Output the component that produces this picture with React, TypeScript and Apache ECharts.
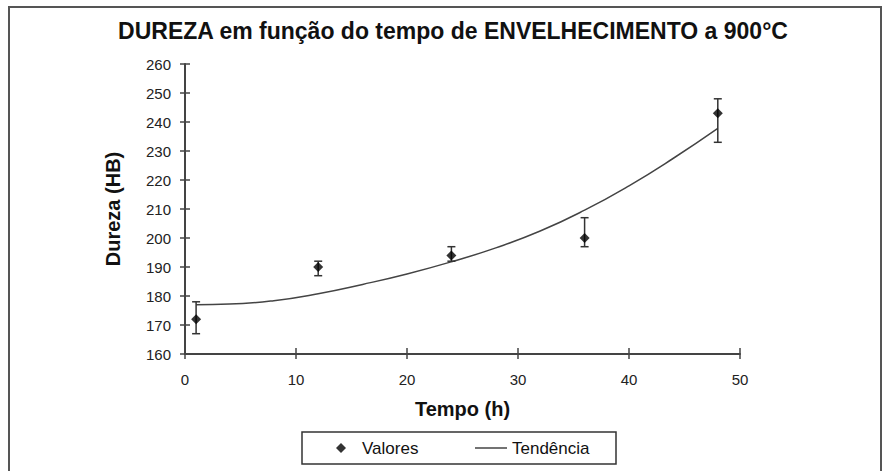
import React, { useEffect, useRef } from "react";
import * as echarts from "echarts";

const titleText = "DUREZA em função do tempo de ENVELHECIMENTO a 900°C";
const xAxisName = "Tempo (h)";
const yAxisName = "Dureza (HB)";

const timeHours = [1, 12, 24, 36, 48];
const hardness = [172, 190, 194, 200, 243];
const errLow = [167, 187, 192, 197, 233];
const errHigh = [178, 192, 197, 207, 248];

const trendX = [1, 4, 8, 12, 16, 20, 24, 28, 32, 36, 40, 44, 48];
const trendY = [177, 177.2, 178.4, 180.8, 184, 187.6, 191.8, 196.6, 202.4, 209.6, 218, 227.5, 237.8];

export default function App() {
  const ref = useRef<HTMLDivElement>(null);
  useEffect(() => {
    if (!ref.current) return;
    const chart = echarts.init(ref.current, null, { renderer: "svg" });
    const axisColor = "#444";
    const font = "Liberation Sans, Arial, sans-serif";
    const labelFont = { fontFamily: font, fontSize: 15, color: "#222" };
    const nameFont = { fontFamily: font, fontSize: 20, fontWeight: "bold" as const, color: "#111" };
    const legendText = { fontFamily: font, fontSize: 17, color: "#111", lineHeight: 18 };
    chart.setOption({
      animation: false,
      backgroundColor: "#fff",
      title: {
        text: titleText,
        left: 453,
        textAlign: "center",
        top: 19,
        padding: 0,
        textStyle: { fontFamily: font, fontSize: 23, fontWeight: "bold", color: "#111" },
      },
      graphic: [
        {
          type: "rect",
          shape: { x: 9, y: 7, width: 872, height: 490 },
          style: { fill: "none", stroke: "#555", lineWidth: 2 },
          silent: true,
        },
        {
          type: "rect",
          shape: { x: 302, y: 432, width: 314, height: 32 },
          style: { fill: "none", stroke: "#333", lineWidth: 1.5 },
          silent: true,
        },
      ],
      legend: [
        {
          left: 336,
          top: 439,
          padding: 0,
          itemWidth: 10,
          itemHeight: 10,
          textStyle: { ...legendText, padding: [0, 0, 0, 11] },
          data: [{ name: "Valores", icon: "diamond" }],
        },
        {
          left: 475,
          top: 439,
          padding: 0,
          itemWidth: 32,
          itemHeight: 1.5,
          textStyle: legendText,
          data: [{ name: "Tendência", icon: "rect" }],
        },
      ],
      grid: { left: 185, right: 142, top: 64, bottom: 117 },
      xAxis: [
        {
          type: "value",
          min: 0,
          max: 50,
          interval: 10,
          name: xAxisName,
          nameLocation: "middle",
          nameGap: 45,
          nameTextStyle: nameFont,
          axisLine: { show: true, onZero: false, lineStyle: { color: axisColor, width: 2 } },
          axisTick: { show: true, length: 5, lineStyle: { color: axisColor, width: 1.5 } },
          axisLabel: { ...labelFont, margin: 18 },
          splitLine: { show: false },
        },
        {
          type: "value",
          min: 0,
          max: 50,
          interval: 10,
          position: "bottom",
          axisLine: { show: false },
          axisTick: { show: true, inside: true, length: 6, lineStyle: { color: axisColor, width: 1.5 } },
          axisLabel: { show: false },
          splitLine: { show: false },
        },
      ],
      yAxis: [
        {
          type: "value",
          min: 160,
          max: 260,
          interval: 10,
          name: yAxisName,
          nameLocation: "middle",
          nameGap: 62,
          nameTextStyle: nameFont,
          axisLine: { show: true, onZero: false, lineStyle: { color: axisColor, width: 2 } },
          axisTick: { show: true, length: 5, lineStyle: { color: axisColor, width: 1.5 } },
          axisLabel: { ...labelFont, margin: 14 },
          splitLine: { show: false },
        },
        {
          type: "value",
          min: 160,
          max: 260,
          interval: 10,
          position: "left",
          axisLine: { show: false },
          axisTick: { show: true, inside: true, length: 5, lineStyle: { color: axisColor, width: 1.5 } },
          axisLabel: { show: false },
          splitLine: { show: false },
        },
      ],
      series: [
        {
          name: "Tendência",
          type: "line",
          data: trendX.map((x, i) => [x, trendY[i]]),
          smooth: true,
          symbol: "none",
          lineStyle: { color: "#444", width: 1.5 },
          itemStyle: { color: "#444" },
          z: 2,
        },
        {
          name: "Erro",
          type: "custom",
          data: timeHours.map((x, i) => [x, errLow[i], errHigh[i]]),
          encode: { x: 0, y: [1, 2] },
          renderItem: (params: any, api: any) => {
            const x = api.value(0);
            const lo = api.coord([x, api.value(1)]);
            const hi = api.coord([x, api.value(2)]);
            const w = 4;
            const style = { stroke: "#333", lineWidth: 1.5, fill: "none" };
            return {
              type: "group",
              children: [
                { type: "line", shape: { x1: lo[0], y1: lo[1], x2: hi[0], y2: hi[1] }, style },
                { type: "line", shape: { x1: lo[0] - w, y1: lo[1], x2: lo[0] + w, y2: lo[1] }, style },
                { type: "line", shape: { x1: hi[0] - w, y1: hi[1], x2: hi[0] + w, y2: hi[1] }, style },
              ],
            };
          },
          z: 3,
        },
        {
          name: "Valores",
          type: "scatter",
          data: timeHours.map((x, i) => [x, hardness[i]]),
          symbol: "diamond",
          symbolSize: 10,
          itemStyle: { color: "#000" },
          z: 4,
        },
      ],
    });
    return () => chart.dispose();
  }, []);
  return (
    <div
      ref={ref}
      style={{ position: "fixed", left: 0, top: 0, width: 882, height: 471, background: "#fff" }}
    />
  );
}
